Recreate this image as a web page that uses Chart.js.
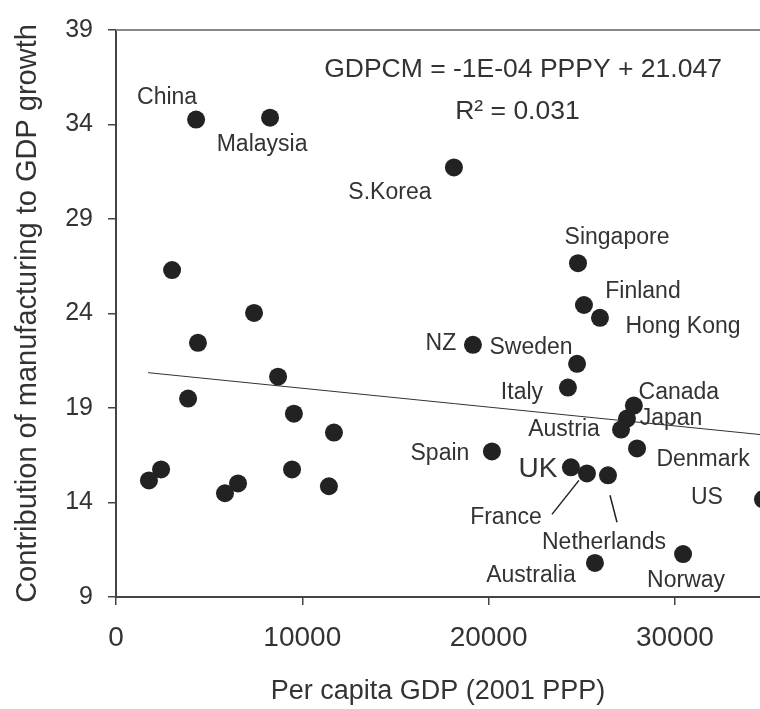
<!DOCTYPE html>
<html>
<head>
<meta charset="utf-8">
<script src="https://cdn.jsdelivr.net/npm/chart.js@4.4.1/dist/chart.umd.min.js"></script>
<style>
    html, body { margin: 0; padding: 0; background: #ffffff; overflow: hidden; }
    #wrap { width: 760px; height: 709px; }
</style>
</head>
<body>
<div id="wrap"><canvas id="scatterChart" width="760" height="709"></canvas></div>
<script>
// labelled countries
const countries = ['China', 'Malaysia', 'S.Korea', 'Singapore', 'Finland', 'Hong Kong', 'NZ', 'Sweden',
    'Italy', 'Canada', 'Japan', 'Austria', 'Denmark', 'Spain', 'UK', 'France', 'Netherlands', 'US',
    'Norway', 'Australia'];
const gdpPerCapita = [4300, 8270, 18140, 24800, 25120, 25980, 19160, 24750,
    24260, 27800, 27430, 27110, 27970, 20180, 24420, 25280, 26410, 34730,
    30440, 25710];
const mfgContribution = [34.26, 34.36, 31.73, 26.66, 24.45, 23.77, 22.34, 21.34,
    20.08, 19.13, 18.44, 17.86, 16.86, 16.70, 15.86, 15.54, 15.44, 14.17,
    11.27, 10.80];

// unlabelled countries
const otherGdp = [3010, 7410, 4400, 8700, 3870, 9550, 11700, 2420, 1770, 9450, 6550, 5850, 11430];
const otherMfg = [26.30, 24.03, 22.45, 20.66, 19.50, 18.70, 17.70, 15.75, 15.17, 15.75, 15.01, 14.49, 14.86];

// fitted line end points
const trendX = [1720, 34730];
const trendY = [20.87, 17.58];

const xTicks = [0, 10000, 20000, 30000];
const yTicks = [9, 14, 19, 24, 29, 34, 39];

const equationText = 'GDPCM = -1E-04 PPPY + 21.047';
const rSquaredText = 'R\u00B2 = 0.031';

// where each name sits relative to its dot (px)
const labelPlacement = {
    'China': { dx: -29, dy: -22 },
    'Malaysia': { dx: -8, dy: 27 },
    'S.Korea': { dx: -64, dy: 25 },
    'Singapore': { dx: 39, dy: -26 },
    'Finland': { dx: 59, dy: -13 },
    'Hong Kong': { dx: 83, dy: 9 },
    'NZ': { dx: -32, dy: -1 },
    'Sweden': { dx: -46, dy: -16 },
    'Italy': { dx: -46, dy: 5 },
    'Canada': { dx: 45, dy: -13 },
    'Japan': { dx: 44, dy: 0 },
    'Austria': { dx: -57, dy: 0 },
    'Denmark': { dx: 66, dy: 11 },
    'Spain': { dx: -52, dy: 2 },
    'UK': { dx: -33, dy: 2, size: 28 },
    'France': { dx: -81, dy: 44, leader: [-35, 41, -8, 7] },
    'Netherlands': { dx: -4, dy: 67, leader: [2, 20, 9, 47] },
    'US': { dx: -56, dy: -2 },
    'Norway': { dx: 3, dy: 27 },
    'Australia': { dx: -64, dy: 13 }
};

const textColor = '#333333';
const axisColor = '#444444';
const fontFamily = "'Liberation Sans', Arial, sans-serif";

const labelledPoints = countries.map((c, i) => ({ x: gdpPerCapita[i], y: mfgContribution[i] }));
const otherPoints = otherGdp.map((g, i) => ({ x: g, y: otherMfg[i] }));
const trendPoints = trendX.map((x, i) => ({ x: x, y: trendY[i] }));

const annotationsPlugin = {
    id: 'annotations',
    afterDatasetsDraw(chart) {
        const ctx = chart.ctx;
        const area = chart.chartArea;
        ctx.save();

        // top frame line
        ctx.strokeStyle = '#888888';
        ctx.lineWidth = 2;
        ctx.beginPath();
        ctx.moveTo(area.left, area.top);
        ctx.lineTo(area.right, area.top);
        ctx.stroke();

        const meta = chart.getDatasetMeta(0);
        ctx.fillStyle = textColor;
        ctx.textAlign = 'center';
        ctx.textBaseline = 'middle';
        countries.forEach((name, i) => {
            const p = meta.data[i];
            const place = labelPlacement[name];
            if (!p || !place) return;
            ctx.font = (place.size || 23) + 'px ' + fontFamily;
            ctx.fillText(name, p.x + place.dx, p.y + place.dy);
            if (place.leader) {
                ctx.strokeStyle = '#222222';
                ctx.lineWidth = 1.5;
                ctx.beginPath();
                ctx.moveTo(p.x + place.leader[0], p.y + place.leader[1]);
                ctx.lineTo(p.x + place.leader[2], p.y + place.leader[3]);
                ctx.stroke();
            }
        });

        // regression text
        ctx.font = '26.5px ' + fontFamily;
        ctx.fillText(equationText, chart.scales.x.getPixelForValue(21850), chart.scales.y.getPixelForValue(36.9));
        ctx.fillText(rSquaredText, chart.scales.x.getPixelForValue(21550), chart.scales.y.getPixelForValue(34.7));
        ctx.restore();
    }
};

const ctx = document.getElementById('scatterChart').getContext('2d');

let chartConfig = {
    type: 'scatter',
    data: {
        datasets: [
            {
                label: 'Countries',
                data: labelledPoints,
                backgroundColor: '#222222',
                borderWidth: 0,
                pointRadius: 9,
                clip: false
            },
            {
                label: 'Other countries',
                data: otherPoints,
                backgroundColor: '#222222',
                borderWidth: 0,
                pointRadius: 9
            },
            {
                type: 'line',
                label: 'Trend',
                data: trendPoints,
                borderColor: '#333333',
                borderWidth: 1,
                pointRadius: 0,
                fill: false
            }
        ]
    },
    options: {
        responsive: false,
        animation: false,
        layout: {
            autoPadding: false,
            padding: { top: 28, right: 0, bottom: 0, left: 0 }
        },
        plugins: {
            legend: { display: false },
            tooltip: { enabled: false }
        },
        scales: {
            x: {
                type: 'linear',
                min: 0,
                max: 34570,
                afterBuildTicks: function(scale) {
                    scale.ticks = xTicks.map(v => ({ value: v }));
                },
                afterFit: function(scale) {
                    scale.height = 112;
                },
                grid: {
                    display: true,
                    drawOnChartArea: false,
                    drawTicks: true,
                    tickLength: 8,
                    color: axisColor,
                    lineWidth: 1.5
                },
                border: { display: true, color: axisColor, width: 2 },
                ticks: {
                    color: textColor,
                    padding: 16,
                    maxRotation: 0,
                    font: { family: fontFamily, size: 28 },
                    callback: function(value) { return String(value); }
                },
                title: {
                    display: true,
                    text: 'Per capita GDP (2001 PPP)',
                    color: textColor,
                    padding: { top: 0, bottom: 1 },
                    font: { family: fontFamily, size: 27 }
                }
            },
            y: {
                type: 'linear',
                min: 9,
                max: 39,
                afterBuildTicks: function(scale) {
                    scale.ticks = yTicks.map(v => ({ value: v }));
                },
                afterFit: function(scale) {
                    scale.width = 116;
                },
                grid: {
                    display: true,
                    drawOnChartArea: false,
                    drawTicks: true,
                    tickLength: 8,
                    color: axisColor,
                    lineWidth: 1.5
                },
                border: { display: true, color: axisColor, width: 2 },
                ticks: {
                    color: textColor,
                    padding: 15,
                    font: { family: fontFamily, size: 25 }
                },
                title: {
                    display: true,
                    text: 'Contribution of manufacturing to GDP growth',
                    color: textColor,
                    padding: { top: 11, bottom: 0 },
                    font: { family: fontFamily, size: 29 }
                }
            }
        }
    },
    plugins: [annotationsPlugin]
};

let myChart = new Chart(ctx, chartConfig);
</script>
</body>
</html>
